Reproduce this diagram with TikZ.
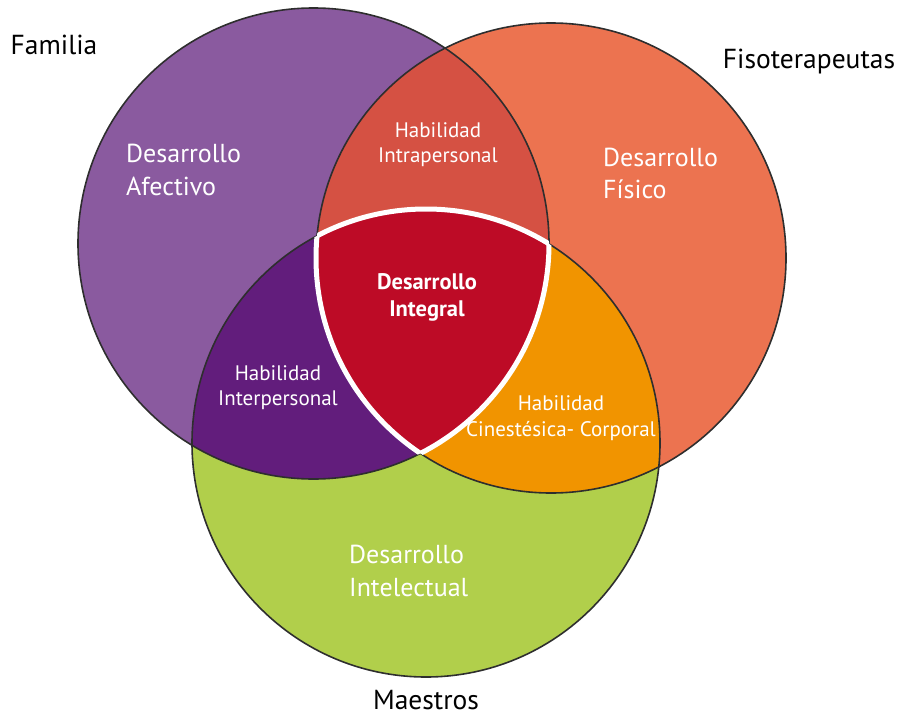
\documentclass[tikz,border=0pt]{standalone}
\usepackage{fontspec}
\setmainfont{PT Sans}
\definecolor{cfam}{HTML}{8A5A9F}
\definecolor{cfis}{HTML}{EC7350}
\definecolor{cmae}{HTML}{B1CF4B}
\definecolor{cintra}{HTML}{D55143}
\definecolor{cinter}{HTML}{621D7C}
\definecolor{ccine}{HTML}{F19400}
\definecolor{cinteg}{HTML}{BD0B26}
\definecolor{cline}{HTML}{2E2E2E}
\tikzset{
  outline/.style={draw=cline, line width=1.6pt},
  whiteedge/.style={draw=white, line width=5pt},
  biglbl/.style={text=black, font=\fontsize{27.5}{32}\selectfont, inner sep=0pt},
  mainlbl/.style={text=white, font=\fontsize{26}{32}\selectfont, inner sep=0pt},
  smalllbl/.style={text=white, font=\fontsize{21}{26}\selectfont, inner sep=0pt},
  boldlbl/.style={text=white, font=\fontsize{22.5}{26}\selectfont\bfseries, inner sep=0pt},
}
\begin{document}
\begin{tikzpicture}[x=1pt,y=-1pt]
\useasboundingbox (0,0) rectangle (901,717);
\coordinate (cL) at (313.5,243.5);
\coordinate (cR) at (551,258);
\coordinate (cB) at (426,443);
\def\rL{235.5}
\def\rR{235}
\def\rB{234}
% base fills
\fill[cfam] (cL) circle[radius=\rL];
\fill[cfis] (cR) circle[radius=\rR];
\fill[cmae] (cB) circle[radius=\rB];
% pairwise intersections
\begin{scope}
  \clip (cL) circle[radius=\rL];
  \fill[cintra] (cR) circle[radius=\rR];
  \fill[cinter] (cB) circle[radius=\rB];
\end{scope}
\begin{scope}
  \clip (cR) circle[radius=\rR];
  \fill[ccine] (cB) circle[radius=\rB];
\end{scope}
% triple intersection
\begin{scope}
  \clip (cL) circle[radius=\rL];
  \clip (cR) circle[radius=\rR];
  \fill[cinteg] (cB) circle[radius=\rB];
\end{scope}
% outlines
\draw[outline] (cL) circle[radius=\rL];
\draw[outline] (cR) circle[radius=\rR];
\draw[outline] (cB) circle[radius=\rB];
% white border of the centre
\begin{scope}
  \clip (cL) circle[radius=\rL];
  \clip (cR) circle[radius=\rR];
  \draw[whiteedge] (cB) circle[radius=\rB];
\end{scope}
\begin{scope}
  \clip (cL) circle[radius=\rL];
  \clip (cB) circle[radius=\rB];
  \draw[whiteedge] (cR) circle[radius=\rR];
\end{scope}
\begin{scope}
  \clip (cR) circle[radius=\rR];
  \clip (cB) circle[radius=\rB];
  \draw[whiteedge] (cL) circle[radius=\rL];
\end{scope}
% outer labels
\node[biglbl, anchor=base] (fam) at (54,55) {Familia};
\node[biglbl, anchor=base] (fis) at (809,68) {Fisoterapeutas};
\node[biglbl, anchor=base] (mae) at (426,709) {Maestros};
% circle labels
\node[mainlbl, anchor=base west] (afec1) at (126,162) {Desarrollo};
\node[mainlbl, anchor=base west] (afec2) at (126,195) {Afectivo};
\node[mainlbl, anchor=base west] (fisi1) at (603,166) {Desarrollo};
\node[mainlbl, anchor=base west] (fisi2) at (603,198) {Físico};
\node[mainlbl, anchor=base west] (inte1) at (349,563) {Desarrollo};
\node[mainlbl, anchor=base west] (inte2) at (349,596) {Intelectual};
% intersection labels
\node[smalllbl, anchor=base] (intra1) at (438,137) {Habilidad};
\node[smalllbl, anchor=base] (intra2) at (438,162) {Intrapersonal};
\node[smalllbl, anchor=base] (inter1) at (278,380) {Habilidad};
\node[smalllbl, anchor=base] (inter2) at (278,405) {Interpersonal};
\node[smalllbl, anchor=base] (cine1) at (561,410) {Habilidad};
\node[smalllbl, anchor=base] (cine2) at (561,436) {Cinestésica- Corporal};
\node[boldlbl, anchor=base] (integ1) at (427,289) {Desarrollo};
\node[boldlbl, anchor=base] (integ2) at (427,316) {Integral};
\end{tikzpicture}
\end{document}
